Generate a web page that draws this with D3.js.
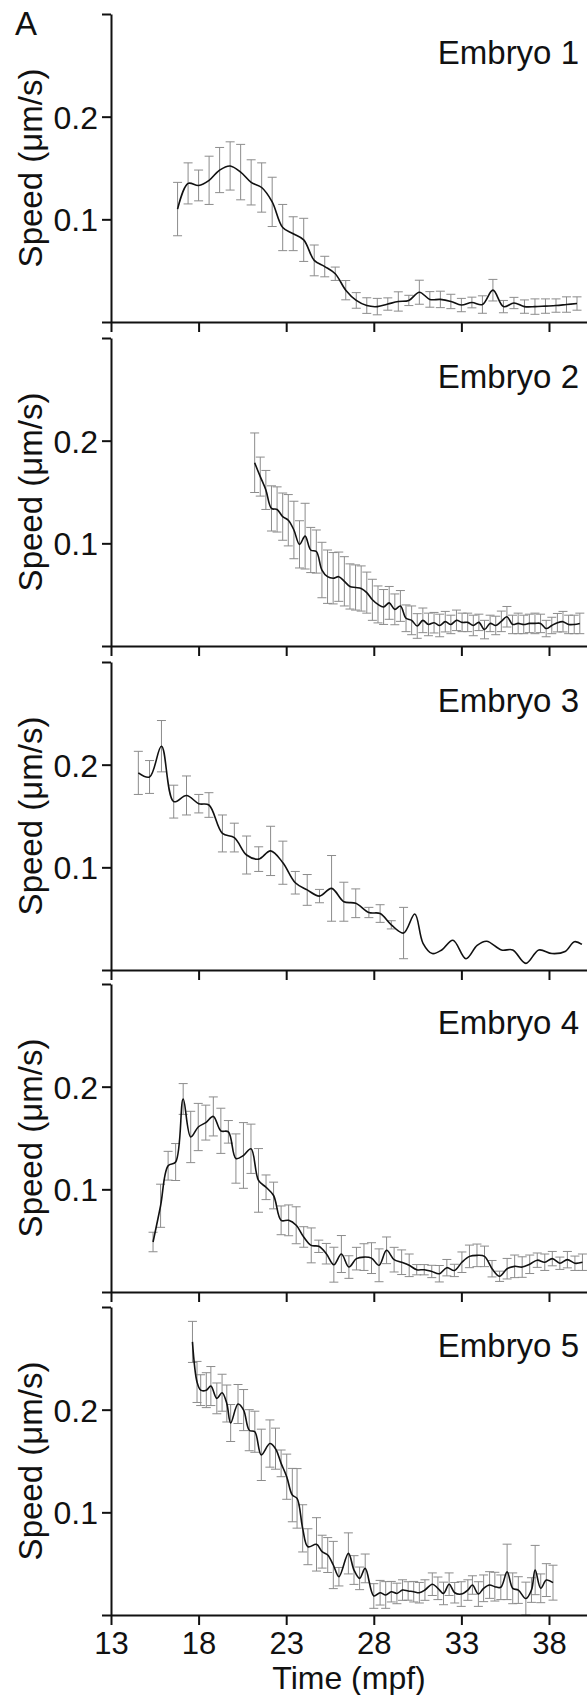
<!DOCTYPE html>
<html>
<head>
<meta charset="utf-8">
<script src="https://cdn.jsdelivr.net/npm/d3@7"></script>
<style>
  body { margin: 0; background: #fff; }
</style>
</head>
<body>
<div id="container"></div>
<script>
// speed data (time in mpf, speed and error in um/s)
let emb1Time = [16.8, 17.4, 18.0, 18.6, 19.2, 19.8, 20.4, 21.0, 21.6, 22.2, 22.8, 23.4, 24.0, 24.6, 25.2, 25.8, 26.4, 27.0, 27.6, 28.2,
  28.8, 29.4, 30.0, 30.6, 31.2, 31.8, 32.4, 33.0, 33.6, 34.2, 34.8, 35.4, 36.0, 36.6, 37.2, 37.8, 38.4, 39.0, 39.6];
let emb1Speed = [0.110, 0.135, 0.133, 0.138, 0.148, 0.152, 0.146, 0.136, 0.131, 0.117, 0.092, 0.086, 0.080, 0.060, 0.054, 0.047, 0.031, 0.021, 0.016, 0.015,
  0.0175, 0.020, 0.021, 0.029, 0.022, 0.022, 0.020, 0.0165, 0.019, 0.017, 0.031, 0.015, 0.0185, 0.015, 0.015, 0.0155, 0.016, 0.017, 0.018];
let emb1Err = [0.026, 0.020, 0.015, 0.0235, 0.022, 0.0235, 0.027, 0.022, 0.024, 0.024, 0.0225, 0.0165, 0.021, 0.015, 0.010, 0.0065, 0.0094, 0.0076, 0.0076, 0.008,
  0.006, 0.0094, 0.005, 0.0117, 0.0076, 0.008, 0.007, 0.0065, 0.0052, 0.0085, 0.0105, 0.006, 0.0055, 0.0065, 0.0075, 0.007, 0.0065, 0.0075, 0.0065];

let emb2Time = [21.20, 21.52, 21.84, 22.16, 22.48, 22.80, 23.12, 23.44, 23.76, 24.08, 24.40, 24.72, 25.04, 25.36, 25.68, 26.00, 26.32, 26.64, 26.96, 27.28,
  27.60, 27.92, 28.24, 28.56, 28.88, 29.20, 29.52, 29.84, 30.16, 30.48, 30.80, 31.12, 31.44, 31.76, 32.08, 32.40, 32.72, 33.04, 33.36, 33.68,
  34.00, 34.32, 34.64, 34.96, 35.28, 35.60, 35.92, 36.24, 36.56, 36.88, 37.20, 37.52, 37.84, 38.16, 38.48, 38.80, 39.12, 39.44, 39.76];
let emb2Speed = [0.1785, 0.165, 0.152, 0.134, 0.133, 0.126, 0.1225, 0.113, 0.099, 0.107, 0.0935, 0.092, 0.074, 0.0675, 0.066, 0.0675, 0.063, 0.058, 0.057, 0.056,
  0.052, 0.045, 0.0405, 0.038, 0.042, 0.0357, 0.039, 0.027, 0.025, 0.0195, 0.025, 0.021, 0.0227, 0.020, 0.0237, 0.021, 0.025, 0.023, 0.023, 0.020,
  0.023, 0.016, 0.022, 0.020, 0.024, 0.0285, 0.021, 0.022, 0.021, 0.022, 0.022, 0.022, 0.017, 0.020, 0.0227, 0.0237, 0.021, 0.021, 0.022];
let emb2Err = [0.029, 0.019, 0.019, 0.022, 0.022, 0.023, 0.025, 0.028, 0.023, 0.032, 0.022, 0.021, 0.027, 0.026, 0.025, 0.024, 0.024, 0.022, 0.022, 0.022,
  0.020, 0.020, 0.018, 0.017, 0.016, 0.015, 0.015, 0.013, 0.014, 0.012, 0.012, 0.011, 0.010, 0.011, 0.010, 0.009, 0.010, 0.009, 0.009, 0.010,
  0.008, 0.009, 0.008, 0.009, 0.010, 0.010, 0.009, 0.010, 0.009, 0.009, 0.010, 0.009, 0.008, 0.008, 0.009, 0.010, 0.009, 0.009, 0.010];

let emb3Time = [14.56, 15.20, 15.88, 16.58, 17.31, 18.01, 18.59, 19.36, 20.04, 20.74, 21.43, 22.11, 22.81, 23.52, 24.20, 24.90, 25.59, 26.29, 26.97, 27.72,
  28.36, 29.00, 29.70, 30.34, 30.81, 31.34, 31.88, 32.52, 33.26, 33.90, 34.44, 35.29, 35.93, 36.68, 37.42, 38.17, 38.92, 39.45, 39.88];
let emb3Speed = [0.192, 0.188, 0.218, 0.164, 0.170, 0.162, 0.1607, 0.133, 0.129, 0.112, 0.108, 0.116, 0.1045, 0.085, 0.078, 0.072, 0.0795, 0.0665, 0.065, 0.056,
  0.055, 0.044, 0.036, 0.0545, 0.026, 0.016, 0.0195, 0.029, 0.011, 0.024, 0.028, 0.0195, 0.0195, 0.0065, 0.0195, 0.016, 0.018, 0.0275, 0.025];
// no error bars after 30 mpf
let emb3Err = [0.021, 0.016, 0.025, 0.016, 0.019, 0.009, 0.012, 0.018, 0.014, 0.0185, 0.012, 0.024, 0.021, 0.011, 0.015, 0.0065, 0.032, 0.019, 0.014, 0.005,
  0.0086, 0.004, 0.025, null, null, null, null, null, null, null, null, null, null, null, null, null, null, null, null];

let emb4Time = [15.40, 15.83, 16.26, 16.69, 17.12, 17.55, 17.98, 18.41, 18.84, 19.27, 19.70, 20.13, 20.56, 20.99, 21.42, 21.85, 22.28, 22.71, 23.14, 23.57,
  24.00, 24.43, 24.86, 25.29, 25.72, 26.15, 26.58, 27.01, 27.44, 27.87, 28.30, 28.73, 29.16, 29.59, 30.02, 30.45, 30.88, 31.31, 31.74, 32.17,
  32.60, 33.03, 33.46, 33.89, 34.32, 34.75, 35.18, 35.61, 36.04, 36.47, 36.90, 37.33, 37.76, 38.19, 38.62, 39.05, 39.48, 39.91];
let emb4Speed = [0.0487, 0.084, 0.123, 0.1266, 0.188, 0.151, 0.1607, 0.165, 0.171, 0.157, 0.156, 0.130, 0.133, 0.1395, 0.1087, 0.102, 0.094, 0.0698, 0.0698, 0.065,
  0.0536, 0.0454, 0.0445, 0.0373, 0.0266, 0.037, 0.0243, 0.0325, 0.034, 0.033, 0.026, 0.0406, 0.0315, 0.029, 0.026, 0.0217, 0.0217, 0.020, 0.0178, 0.0237,
  0.021, 0.029, 0.0347, 0.0357, 0.0347, 0.0227, 0.0153, 0.0227, 0.025, 0.0243, 0.027, 0.031, 0.029, 0.0325, 0.028, 0.0315, 0.028, 0.029];
let emb4Err = [0.0095, 0.021, 0.014, 0.018, 0.015, 0.025, 0.023, 0.017, 0.019, 0.022, 0.011, 0.024, 0.032, 0.024, 0.031, 0.012, 0.013, 0.014, 0.015, 0.018,
  0.010, 0.017, 0.006, 0.010, 0.017, 0.018, 0.011, 0.011, 0.013, 0.015, 0.016, 0.013, 0.012, 0.012, 0.011, 0.005, 0.005, 0.006, 0.008, 0.008,
  0.006, 0.010, 0.011, 0.011, 0.010, 0.008, 0.005, 0.010, 0.011, 0.010, 0.009, 0.007, 0.008, 0.007, 0.006, 0.008, 0.007, 0.008];

let emb5Time = [17.65, 17.91, 18.12, 18.44, 18.70, 19.04, 19.34, 19.61, 19.83, 20.25, 20.57, 20.89, 21.21, 21.58, 22.07, 22.39, 22.71, 23.03, 23.35, 23.62,
  23.94, 24.24, 24.73, 25.05, 25.37, 25.69, 26.01, 26.55, 26.87, 27.19, 27.51, 28.00, 28.36, 28.68, 29.00, 29.32, 29.64, 29.96, 30.28, 30.60,
  30.92, 31.34, 31.66, 31.98, 32.30, 32.62, 32.99, 33.37, 33.63, 33.97, 34.27, 34.61, 34.91, 35.25, 35.61, 35.93, 36.25, 36.68, 37.00, 37.21,
  37.53, 37.85, 38.23];
let emb5Speed = [0.266, 0.227, 0.219, 0.219, 0.223, 0.211, 0.2165, 0.206, 0.187, 0.2055, 0.1996, 0.180, 0.1785, 0.156, 0.167, 0.162, 0.1477, 0.1347, 0.1168, 0.1136,
  0.0844, 0.0665, 0.0688, 0.0617, 0.0584, 0.0487, 0.0373, 0.060, 0.0438, 0.0357, 0.0454, 0.0185, 0.0217, 0.0195, 0.0227, 0.021, 0.0243, 0.0234, 0.0227, 0.0217,
  0.0243, 0.030, 0.026, 0.021, 0.030, 0.0217, 0.0204, 0.0243, 0.0292, 0.0204, 0.026, 0.0292, 0.0276, 0.027, 0.042, 0.026, 0.0243, 0.016, 0.0243, 0.0438,
  0.026, 0.034, 0.0315];
let emb5Err = [0.020, 0.020, 0.015, 0.017, 0.019, 0.015, 0.018, 0.018, 0.018, 0.019, 0.020, 0.020, 0.020, 0.025, 0.023, 0.020, 0.013, 0.022, 0.026, 0.029,
  0.023, 0.0175, 0.026, 0.016, 0.017, 0.023, 0.009, 0.020, 0.014, 0.011, 0.014, 0.012, 0.012, 0.013, 0.010, 0.010, 0.010, 0.009, 0.010, 0.010,
  0.010, 0.011, 0.011, 0.011, 0.011, 0.010, 0.012, 0.010, 0.009, 0.012, 0.013, 0.013, 0.014, 0.012, 0.027, 0.015, 0.013, 0.016, 0.012, 0.024,
  0.014, 0.016, 0.017];

let embryoNames = ["Embryo 1", "Embryo 2", "Embryo 3", "Embryo 4", "Embryo 5"];
let xTicks = [13, 18, 23, 28, 33, 38];
let yTicks = [0, 0.1, 0.2, 0.3];
let yTickLabels = [0.1, 0.2];

let series = [
  [emb1Time, emb1Speed, emb1Err],
  [emb2Time, emb2Speed, emb2Err],
  [emb3Time, emb3Speed, emb3Err],
  [emb4Time, emb4Speed, emb4Err],
  [emb5Time, emb5Speed, emb5Err]
];

let w = 587;
let h = 1695;
let font = "'Liberation Sans', Arial, sans-serif";

let viz = d3.select("#container")
  .append("svg")
    .attr("width", w)
    .attr("height", h)
    .style("display", "block")
;

let x = d3.scaleLinear().domain([13, 40.17]).range([111, 587]);

// panel layout (bottom of each plot area)
let bottoms = [322, 646, 970, 1292, 1615];
let panelH = 308;

series.forEach(function(s, i){
  let b = bottoms[i];
  let y = d3.scaleLinear().domain([0, 0.3]).range([b, b - panelH]);
  let pts = s[0].map(function(t, j){
    return { t: t, v: s[1][j], e: s[2][j] };
  });
  let g = viz.append("g");

  // error bars
  let bars = g.append("g")
    .attr("stroke", "#8c8c8c")
    .attr("stroke-width", 1)
    .attr("fill", "none");
  pts.filter(function(d){ return d.e != null; }).forEach(function(d){
    let px = x(d.t);
    let y1 = y(d.v + d.e);
    let y2 = y(d.v - d.e);
    bars.append("path")
      .attr("d", "M" + px + "," + y1 + "V" + y2 +
        "M" + (px - 4.5) + "," + y1 + "H" + (px + 4.5) +
        "M" + (px - 4.5) + "," + y2 + "H" + (px + 4.5));
  });

  // mean line
  let lineMaker = d3.line()
    .x(function(d){ return x(d.t); })
    .y(function(d){ return y(d.v); })
    .curve(d3.curveCatmullRom.alpha(0.5));

  g.append("path")
    .datum(pts)
    .attr("d", lineMaker)
    .attr("fill", "none")
    .attr("stroke", "#111")
    .attr("stroke-width", 1.6);

  // axes
  let yAxis = d3.axisLeft(y)
    .tickValues(yTicks)
    .tickSize(9)
    .tickSizeOuter(0)
    .tickPadding(4)
    .tickFormat(function(d){ return yTickLabels.indexOf(d) >= 0 ? d3.format(".1f")(d) : ""; });

  let ya = g.append("g")
    .attr("transform", "translate(" + x(13) + ",0)")
    .call(yAxis);

  let xAxis = d3.axisBottom(x)
    .tickValues(xTicks)
    .tickSize(10)
    .tickSizeOuter(0)
    .tickPadding(7)
    .tickFormat(function(d){ return i == series.length - 1 ? d : ""; });

  let xa = g.append("g")
    .attr("transform", "translate(0," + b + ")")
    .call(xAxis);

  [ya, xa].forEach(function(a){
    a.attr("font-size", 32).attr("font-family", font);
    a.selectAll("path, line").attr("stroke", "#111").attr("stroke-width", 2);
    a.selectAll("text").attr("fill", "#111");
  });
  ya.selectAll("text").attr("dy", "0.36em");
  xa.attr("font-size", 31);

  // y label
  g.append("text")
    .attr("transform", "translate(42," + (b - panelH / 2) + ") rotate(-90)")
    .attr("text-anchor", "middle")
    .attr("font-family", font)
    .attr("font-size", 33)
    .attr("fill", "#111")
    .text("Speed (\u03bcm/s)");

  // panel name
  g.append("text")
    .attr("x", 579)
    .attr("y", b - panelH + 50)
    .attr("text-anchor", "end")
    .attr("font-family", font)
    .attr("font-size", 33)
    .attr("fill", "#111")
    .text(embryoNames[i]);
});

viz.append("text")
  .attr("x", 349)
  .attr("y", 1689)
  .attr("text-anchor", "middle")
  .attr("font-family", font)
  .attr("font-size", 32)
  .attr("fill", "#111")
  .text("Time (mpf)");

viz.append("text")
  .attr("x", 15)
  .attr("y", 35)
  .attr("font-family", font)
  .attr("font-size", 33)
  .attr("fill", "#111")
  .text("A");
</script>
</body>
</html>
